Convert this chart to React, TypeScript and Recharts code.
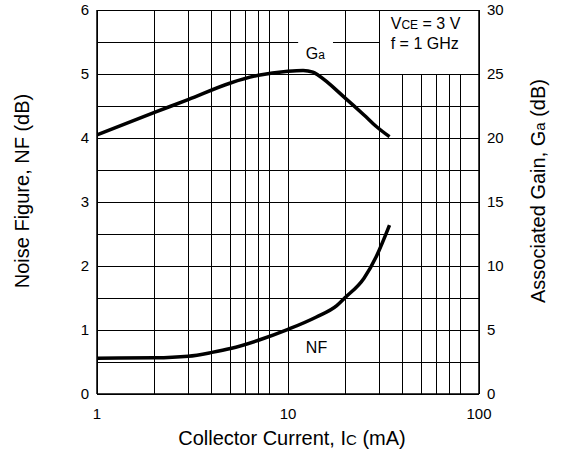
import { LineChart, Line, XAxis, YAxis, CartesianGrid, ReferenceArea, ReferenceDot } from "recharts";

const FONT = "'Liberation Sans', Arial, Helvetica, sans-serif";

// axis ticks (grid lines follow them)
const currentTicks = [1, 2, 3, 4, 5, 6, 7, 8, 9, 10, 20, 30, 40, 50, 60, 70, 80, 90, 100];
const currentLabels = [1, 10, 100];
const nfTicks = [0, 0.5, 1, 1.5, 2, 2.5, 3, 3.5, 4, 4.5, 5, 5.5, 6];
const gainTicks = [0, 2.5, 5, 7.5, 10, 12.5, 15, 17.5, 20, 22.5, 25, 27.5, 30];

// associated gain Ga (dB) vs Ic (mA)
const gaCurrent = [1, 2, 3, 5, 7, 10, 12, 13.5, 14.4, 20, 25, 29, 34];
const gaValues = [20.25, 22.0, 23.0, 24.3, 24.9, 25.22, 25.28, 25.15, 24.9, 23.1, 21.8, 20.9, 20.1];

// noise figure NF (dB) vs Ic (mA)
const nfCurrent = [1, 2, 3, 4, 5, 7, 10, 14, 18, 20, 25, 29, 34];
const nfValues = [0.56, 0.565, 0.59, 0.65, 0.71, 0.84, 1.01, 1.2, 1.38, 1.51, 1.81, 2.15, 2.64];

const gaData = gaCurrent.map((ic, i) => ({ ic, ga: gaValues[i] }));
const nfData = nfCurrent.map((ic, i) => ({ ic, nf: nfValues[i] }));

const tickStyle = { fill: "#000", fontSize: 15, fontFamily: FONT };
const TITLE = 20;
const SUB = 15;

function LeftTitle({ viewBox }: any) {
  const cx = viewBox.x - 35;
  const cy = viewBox.y + viewBox.height / 2 - 11;
  return (
    <text x={cx} y={cy + 7} transform={`rotate(-90 ${cx} ${cy})`} textAnchor="middle" fontSize={TITLE} fontFamily={FONT} fill="#000">
      Noise Figure, NF (dB)
    </text>
  );
}

function RightTitle({ viewBox }: any) {
  const cx = viewBox.x + 59;
  const cy = viewBox.y + viewBox.height / 2 - 11;
  return (
    <text x={cx} y={cy + 7} transform={`rotate(-90 ${cx} ${cy})`} textAnchor="middle" fontSize={TITLE} fontFamily={FONT} fill="#000">
      Associated Gain, G<tspan fontSize={SUB}>a</tspan> (dB)
    </text>
  );
}

function BottomTitle({ viewBox }: any) {
  const cx = viewBox.x + viewBox.width / 2 + 4;
  return (
    <text x={cx} y={viewBox.y + 51} textAnchor="middle" fontSize={TITLE} fontFamily={FONT} fill="#000">
      Collector Current, I<tspan fontSize={SUB}>C</tspan> (mA)
    </text>
  );
}

export default function App() {
  return (
    <div style={{ position: "absolute", left: 0, top: 0, background: "#fff" }}>
      <LineChart width={562} height={457} margin={{ top: 10, right: 43, bottom: 33, left: 57 }}>
        <CartesianGrid yAxisId="nf" stroke="#000" strokeWidth={1} shapeRendering="crispEdges" />
        <XAxis
          dataKey="ic"
          type="number"
          scale="log"
          domain={[1, 100]}
          ticks={currentTicks}
          allowDataOverflow
          tickFormatter={(v: number) => (currentLabels.includes(v) ? String(v) : "")}
          tick={tickStyle}
          tickLine={false}
          tickMargin={8}
          axisLine={{ stroke: "#000", strokeWidth: 1.5 }}
          height={30}
          label={<BottomTitle />}
        />
        <YAxis
          yAxisId="nf"
          domain={[0, 6]}
          ticks={nfTicks}
          interval={0}
          tickFormatter={(v: number) => (Number.isInteger(v) ? String(v) : "")}
          tick={tickStyle}
          tickLine={false}
          axisLine={{ stroke: "#000", strokeWidth: 1.5 }}
          width={40}
          label={<LeftTitle />}
        />
        <YAxis
          yAxisId="ga"
          orientation="right"
          domain={[0, 30]}
          ticks={gainTicks}
          interval={0}
          tickFormatter={(v: number) => (v % 5 === 0 ? String(v) : "")}
          tick={{ ...tickStyle, textAnchor: "start" }}
          tickLine={false}
          axisLine={{ stroke: "#000", strokeWidth: 1.5 }}
          width={40}
          label={<RightTitle />}
        />
        {/* condition box */}
        <ReferenceArea yAxisId="nf" x1={30} x2={100} y1={5} y2={6} fill="#fff" fillOpacity={1} stroke="#000" strokeWidth={1} shapeRendering="crispEdges" ifOverflow="visible" />
        {/* gap in the grid behind the Ga label */}
        <ReferenceArea yAxisId="nf" x1={11.3} x2={17.2} y1={5.44} y2={5.56} fill="#fff" fillOpacity={1} stroke="none" />
        <ReferenceDot
          yAxisId="nf"
          x={34.5}
          y={5.5}
          r={0}
          fill="none"
          stroke="none"
          label={({ viewBox }: any) => (
            <text x={viewBox.x} y={viewBox.y} fontSize={16} fontFamily={FONT} fill="#000">
              <tspan x={viewBox.x} dy={-13}>
                V<tspan fontSize={12}>CE</tspan> = 3 V
              </tspan>
              <tspan x={viewBox.x} dy={20}>f = 1 GHz</tspan>
            </text>
          )}
        />
        <ReferenceDot
          yAxisId="nf"
          x={13.9}
          y={5.33}
          r={0}
          fill="none"
          stroke="none"
          label={({ viewBox }: any) => (
            <text x={viewBox.x} y={viewBox.y + 6} textAnchor="middle" fontSize={16} fontFamily={FONT} fill="#000">
              G<tspan fontSize={12}>a</tspan>
            </text>
          )}
        />
        <ReferenceDot
          yAxisId="nf"
          x={14.1}
          y={0.73}
          r={0}
          fill="none"
          stroke="none"
          label={({ viewBox }: any) => (
            <text x={viewBox.x} y={viewBox.y + 6} textAnchor="middle" fontSize={16} fontFamily={FONT} fill="#000">
              NF
            </text>
          )}
        />
        <Line
          yAxisId="ga"
          data={gaData}
          dataKey="ga"
          type="monotone"
          stroke="#000"
          strokeWidth={3.5}
          dot={false}
          isAnimationActive={false}
        />
        <Line
          yAxisId="nf"
          data={nfData}
          dataKey="nf"
          type="monotone"
          stroke="#000"
          strokeWidth={3.5}
          dot={false}
          isAnimationActive={false}
        />
      </LineChart>
    </div>
  );
}
